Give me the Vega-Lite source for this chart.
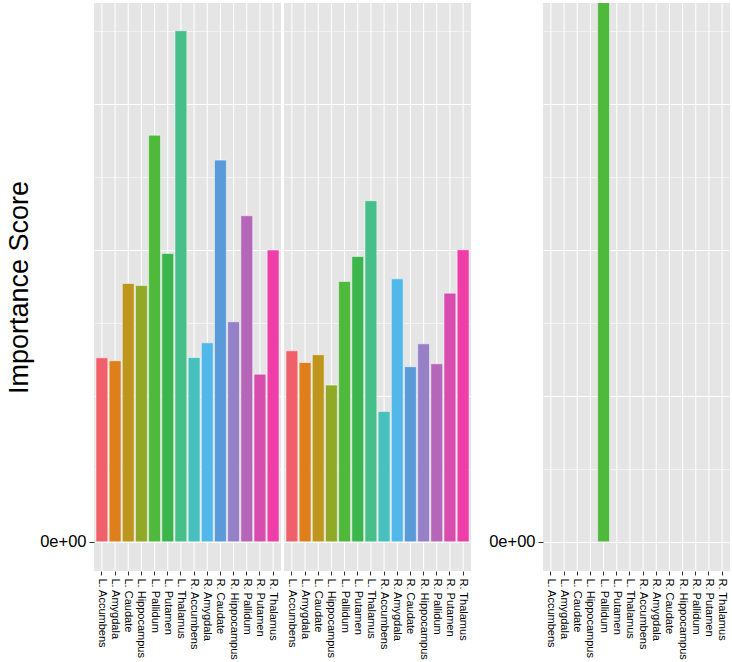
{
  "$schema": "https://vega.github.io/schema/vega-lite/v6.json",
  "description": "Importance score per subcortical region, three panels",
  "background": "white",
  "padding": {"left": 5, "top": 2, "right": 0, "bottom": 0},
  "config": {
    "view": {"fill": "#E5E5E5", "stroke": null},
    "font": "Liberation Sans",
    "axis": {
      "domain": false,
      "gridColor": "white",
      "tickColor": "#333333",
      "labelColor": "black",
      "titleColor": "black",
      "titleFontWeight": "normal"
    }
  },
  "datasets": {
    "regions": [
      {"region": "L. Accumbens"}, {"region": "L. Amygdala"}, {"region": "L. Caudate"}, {"region": "L. Hippocampus"},
      {"region": "L. Pallidum"}, {"region": "L. Putamen"}, {"region": "L. Thalamus"}, {"region": "R. Accumbens"},
      {"region": "R. Amygdala"}, {"region": "R. Caudate"}, {"region": "R. Hippocampus"}, {"region": "R. Pallidum"},
      {"region": "R. Putamen"}, {"region": "R. Thalamus"}
    ]
  },
  "data": {
    "values": [
      {"panel": 1, "region": "L. Accumbens", "score": 1.260},
      {"panel": 1, "region": "L. Amygdala", "score": 1.240},
      {"panel": 1, "region": "L. Caudate", "score": 1.769},
      {"panel": 1, "region": "L. Hippocampus", "score": 1.755},
      {"panel": 1, "region": "L. Pallidum", "score": 2.785},
      {"panel": 1, "region": "L. Putamen", "score": 1.975},
      {"panel": 1, "region": "L. Thalamus", "score": 3.500},
      {"panel": 1, "region": "R. Accumbens", "score": 1.262},
      {"panel": 1, "region": "R. Amygdala", "score": 1.363},
      {"panel": 1, "region": "R. Caudate", "score": 2.614},
      {"panel": 1, "region": "R. Hippocampus", "score": 1.507},
      {"panel": 1, "region": "R. Pallidum", "score": 2.233},
      {"panel": 1, "region": "R. Putamen", "score": 1.148},
      {"panel": 1, "region": "R. Thalamus", "score": 1.998},
      {"panel": 2, "region": "L. Accumbens", "score": 1.308},
      {"panel": 2, "region": "L. Amygdala", "score": 1.228},
      {"panel": 2, "region": "L. Caudate", "score": 1.281},
      {"panel": 2, "region": "L. Hippocampus", "score": 1.073},
      {"panel": 2, "region": "L. Pallidum", "score": 1.783},
      {"panel": 2, "region": "L. Putamen", "score": 1.954},
      {"panel": 2, "region": "L. Thalamus", "score": 2.336},
      {"panel": 2, "region": "R. Accumbens", "score": 0.892},
      {"panel": 2, "region": "R. Amygdala", "score": 1.801},
      {"panel": 2, "region": "R. Caudate", "score": 1.199},
      {"panel": 2, "region": "R. Hippocampus", "score": 1.356},
      {"panel": 2, "region": "R. Pallidum", "score": 1.219},
      {"panel": 2, "region": "R. Putamen", "score": 1.703},
      {"panel": 2, "region": "R. Thalamus", "score": 2.000},
      {"panel": 3, "region": "L. Pallidum", "score": 4.0}
    ]
  },
  "spacing": 17,
  "hconcat": [
    {
      "spacing": 3,
      "hconcat": [
        {
          "width": 187,
          "height": 568,
          "layer": [
            {
              "data": {"name": "regions"},
              "mark": {"type": "rule", "color": "white", "strokeWidth": 1.07},
              "encoding": {
                "x": {"field": "region", "type": "nominal", "title": null, "sort": null}
              }
            },
            {
              "transform": [{"filter": "datum.panel == 1"}],
              "mark": {"type": "bar", "stroke": "white", "strokeWidth": 0.5, "clip": true},
              "encoding": {
                "x": {
                  "field": "region", "type": "nominal", "title": null,
                  "scale": {
                    "domain": ["L. Accumbens", "L. Amygdala", "L. Caudate", "L. Hippocampus", "L. Pallidum", "L. Putamen", "L. Thalamus", "R. Accumbens", "R. Amygdala", "R. Caudate", "R. Hippocampus", "R. Pallidum", "R. Putamen", "R. Thalamus"],
                    "paddingInner": 0.1, "paddingOuter": 0.15
                  },
                  "axis": {"labelAngle": 90, "labelAlign": "left", "labelBaseline": "middle", "labelFontSize": 11, "labelPadding": 3, "tickSize": 4}
                },
                "y": {
                  "field": "score", "type": "quantitative", "title": "Importance Score",
                  "scale": {"domain": [-0.2, 3.69], "nice": false},
                  "axis": {
                    "values": [0, 0.5, 1, 1.5, 2, 2.5, 3, 3.5],
                    "labelExpr": "datum.value === 0 ? '0e+00' : ''",
                    "labelFontSize": 16.5,
                    "labelPadding": 3,
                    "tickSize": 5,
                    "tickOpacity": {"condition": {"test": "datum.value === 0", "value": 1}, "value": 0},
                    "gridWidth": {"condition": {"test": "datum.value % 1 === 0", "value": 1.07}, "value": 0.53},
                    "titleFontSize": 27,
                    "titlePadding": 6
                  }
                },
                "color": {
                  "field": "region", "type": "nominal", "legend": null,
                  "scale": {
                    "domain": ["L. Accumbens", "L. Amygdala", "L. Caudate", "L. Hippocampus", "L. Pallidum", "L. Putamen", "L. Thalamus", "R. Accumbens", "R. Amygdala", "R. Caudate", "R. Hippocampus", "R. Pallidum", "R. Putamen", "R. Thalamus"],
                    "range": ["#F0606A", "#DF7F1B", "#BE961E", "#90AA28", "#4EB93A", "#3CB64C", "#47BF8A", "#47C0BE", "#52B8EA", "#5A9AD8", "#9680C8", "#B566B8", "#D84CAE", "#EF3EA8"]
                  }
                }
              }
            }
          ]
        },
        {
          "width": 187,
          "height": 568,
          "layer": [
            {
              "data": {"name": "regions"},
              "mark": {"type": "rule", "color": "white", "strokeWidth": 1.07},
              "encoding": {
                "x": {"field": "region", "type": "nominal", "title": null, "sort": null}
              }
            },
            {
              "transform": [{"filter": "datum.panel == 2"}],
              "mark": {"type": "bar", "stroke": "white", "strokeWidth": 0.5, "clip": true},
              "encoding": {
                "x": {
                  "field": "region", "type": "nominal", "title": null,
                  "scale": {
                    "domain": ["L. Accumbens", "L. Amygdala", "L. Caudate", "L. Hippocampus", "L. Pallidum", "L. Putamen", "L. Thalamus", "R. Accumbens", "R. Amygdala", "R. Caudate", "R. Hippocampus", "R. Pallidum", "R. Putamen", "R. Thalamus"],
                    "paddingInner": 0.1, "paddingOuter": 0.15
                  },
                  "axis": {"labelAngle": 90, "labelAlign": "left", "labelBaseline": "middle", "labelFontSize": 11, "labelPadding": 3, "tickSize": 4}
                },
                "y": {
                  "field": "score", "type": "quantitative", "title": null,
                  "scale": {"domain": [-0.2, 3.69], "nice": false},
                  "axis": {
                    "values": [0, 0.5, 1, 1.5, 2, 2.5, 3, 3.5],
                    "labels": false,
                    "ticks": false,
                    "gridWidth": {"condition": {"test": "datum.value % 1 === 0", "value": 1.07}, "value": 0.53}
                  }
                },
                "color": {
                  "field": "region", "type": "nominal", "legend": null,
                  "scale": {
                    "domain": ["L. Accumbens", "L. Amygdala", "L. Caudate", "L. Hippocampus", "L. Pallidum", "L. Putamen", "L. Thalamus", "R. Accumbens", "R. Amygdala", "R. Caudate", "R. Hippocampus", "R. Pallidum", "R. Putamen", "R. Thalamus"],
                    "range": ["#F0606A", "#DF7F1B", "#BE961E", "#90AA28", "#4EB93A", "#3CB64C", "#47BF8A", "#47C0BE", "#52B8EA", "#5A9AD8", "#9680C8", "#B566B8", "#D84CAE", "#EF3EA8"]
                  }
                }
              }
            }
          ]
        }
      ]
    },
    {
      "width": 187,
      "height": 568,
      "layer": [
        {
          "data": {"name": "regions"},
          "mark": {"type": "rule", "color": "white", "strokeWidth": 1.07},
          "encoding": {
            "x": {"field": "region", "type": "nominal", "title": null, "sort": null}
          }
        },
        {
          "transform": [{"filter": "datum.panel == 3"}],
          "mark": {"type": "bar", "stroke": "white", "strokeWidth": 0.5, "clip": true},
          "encoding": {
            "x": {
              "field": "region", "type": "nominal", "title": null,
              "scale": {
                "domain": ["L. Accumbens", "L. Amygdala", "L. Caudate", "L. Hippocampus", "L. Pallidum", "L. Putamen", "L. Thalamus", "R. Accumbens", "R. Amygdala", "R. Caudate", "R. Hippocampus", "R. Pallidum", "R. Putamen", "R. Thalamus"],
                "paddingInner": 0.1, "paddingOuter": 0.15
              },
              "axis": {"labelAngle": 90, "labelAlign": "left", "labelBaseline": "middle", "labelFontSize": 11, "labelPadding": 3, "tickSize": 4}
            },
            "y": {
              "field": "score", "type": "quantitative", "title": null,
              "scale": {"domain": [-0.2, 3.69], "nice": false},
              "axis": {
                "values": [0, 0.5, 1, 1.5, 2, 2.5, 3, 3.5],
                "labelExpr": "datum.value === 0 ? '0e+00' : ''",
                "labelFontSize": 16.5,
                "labelPadding": 3,
                "tickSize": 5,
                "tickOpacity": {"condition": {"test": "datum.value === 0", "value": 1}, "value": 0},
                "gridWidth": {"condition": {"test": "datum.value % 1 === 0", "value": 1.07}, "value": 0.53}
              }
            },
            "color": {
              "field": "region", "type": "nominal", "legend": null,
              "scale": {
                "domain": ["L. Accumbens", "L. Amygdala", "L. Caudate", "L. Hippocampus", "L. Pallidum", "L. Putamen", "L. Thalamus", "R. Accumbens", "R. Amygdala", "R. Caudate", "R. Hippocampus", "R. Pallidum", "R. Putamen", "R. Thalamus"],
                "range": ["#F0606A", "#DF7F1B", "#BE961E", "#90AA28", "#4EB93A", "#3CB64C", "#47BF8A", "#47C0BE", "#52B8EA", "#5A9AD8", "#9680C8", "#B566B8", "#D84CAE", "#EF3EA8"]
              }
            }
          }
        }
      ]
    }
  ]
}
